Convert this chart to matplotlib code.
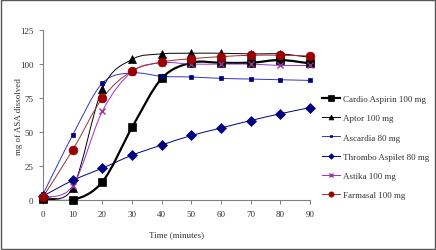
import matplotlib
matplotlib.use("Agg")
import matplotlib.pyplot as plt
from matplotlib.path import Path
from matplotlib.patches import PathPatch, Rectangle
from matplotlib.lines import Line2D
import numpy as np

plt.rcParams['font.family'] = ['Liberation Serif', 'DejaVu Serif']

time_min = [0, 10, 20, 30, 40, 50, 60, 70, 80, 90]

cardio_aspirin = [1, 0, 13.5, 53.5, 89.5, 101, 101, 101, 103, 100.5]
aptor = [2, 9, 82, 103.5, 107.5, 108, 108, 107.5, 107.5, 105]
ascardia = [4.5, 48, 86, 93.5, 91, 90.5, 89.5, 89, 88.5, 88]
thrombo_aspilet = [3, 14.5, 23.5, 33, 40.5, 47.5, 53, 58.5, 63.5, 68]
astika = [2, 10.5, 65.5, 94.5, 101, 100, 100, 100, 99, 99]
farmasal = [2.5, 37, 75, 95, 101.5, 104, 105.5, 106.5, 106.5, 106]

names = ["Cardio Aspirin 100 mg", "Aptor 100 mg", "Ascardia 80 mg",
         "Thrombo Aspilet 80 mg", "Astika 100 mg", "Farmasal 100 mg"]
series = [cardio_aspirin, aptor, ascardia, thrombo_aspilet, astika, farmasal]

# (line colour, line width, marker, marker colour, marker size)
styles = [
    ("black", 1.6, "s", "black", 6.3),
    ("black", 0.7, "^", "black", 5.8),
    ("#3333cc", 0.7, "s", "#000080", 3.5),
    ("#000080", 0.7, "D", "#000080", 4.7),
    ("#9933cc", 0.7, "x", "#993399", 5.0),
    ("#993333", 0.7, "o", "#990000", 6.3),
]


def smooth_path(x, y):
    # excel-like smoothed line: cubic bezier through the points
    p = np.column_stack([x, y]).astype(float)
    n = len(p)
    verts = [p[0]]
    codes = [Path.MOVETO]
    for i in range(n - 1):
        p0 = p[i - 1] if i > 0 else p[i]
        p1 = p[i]
        p2 = p[i + 1]
        p3 = p[i + 2] if i + 2 < n else p[i + 1]
        c1 = p1 + (p2 - p0) / 6.0
        c2 = p2 - (p3 - p1) / 6.0
        verts += [c1, c2, p2]
        codes += [Path.CURVE4] * 3
    return Path(verts, codes)


fig = plt.figure(figsize=(4.36, 2.51), dpi=100)
ax = fig.add_axes([0.099, 0.199, 0.612, 0.677])

handles = []
for vals, name, (lc, lw, mk, mc, ms) in zip(series, names, styles):
    ax.add_patch(PathPatch(smooth_path(time_min, vals), fill=False,
                           edgecolor=lc, linewidth=lw))
    mew = 1.0 if mk == "x" else 0.5
    ax.plot(time_min, vals, linestyle="none", marker=mk, color=mc,
            markersize=ms, markeredgewidth=mew, clip_on=False, zorder=3)
    handles.append(Line2D([], [], color=lc, linewidth=lw, marker=mk,
                          markerfacecolor=mc, markeredgecolor=mc,
                          markersize=ms * 0.6, markeredgewidth=mew))

ax.set_xlim(0, 90)
ax.set_ylim(0, 125)
ax.set_xticks(time_min)
ax.set_yticks([0, 25, 50, 75, 100, 125])
ax.spines["top"].set_visible(False)
ax.spines["right"].set_visible(False)
for s in ("left", "bottom"):
    ax.spines[s].set_color("#808080")
    ax.spines[s].set_linewidth(0.8)
ax.tick_params(direction="out", length=3, width=0.7, color="#808080",
               labelsize=6.5, labelcolor="#333333", pad=4)
ax.set_xlabel("Time (minutes)", fontsize=6.5, color="#333333", labelpad=9)
ax.set_ylabel("mg of ASA dissolved", fontsize=6.5, color="#333333")
ax.yaxis.set_label_coords(-0.075, 0.5)

fig.legend(handles, names, loc="upper left", bbox_to_anchor=(0.73, 0.632),
           frameon=False, fontsize=6.5, handlelength=2.0, handletextpad=0.3,
           labelspacing=1.2, labelcolor="#333333", borderaxespad=0)

fig.patches.append(Rectangle((0.003, 0.005), 0.994, 0.99, transform=fig.transFigure,
                             fill=False, edgecolor="#555555", linewidth=1.0))

fig.savefig("out.png", dpi=100)
